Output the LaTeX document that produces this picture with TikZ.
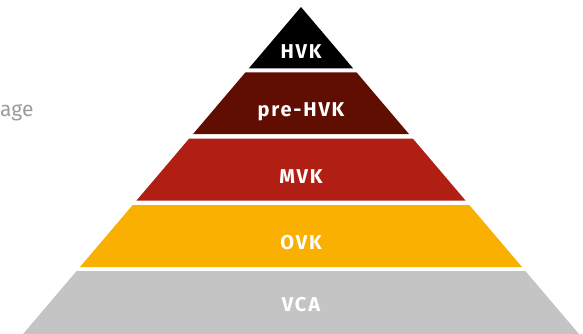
\documentclass[tikz,border=0pt]{standalone}
\usepackage{fontspec}
\setsansfont{Fira Sans}[LetterSpace=9]
\newfontfamily\plainsans{Fira Sans}
\usepackage{tikz}

\definecolor{hvkcol}{HTML}{000000}
\definecolor{prehvkcol}{HTML}{600D02}
\definecolor{mvkcol}{HTML}{B01E14}
\definecolor{ovkcol}{HTML}{F9B000}
\definecolor{vcacol}{HTML}{C4C4C4}
\definecolor{captioncol}{HTML}{9B9B9B}

\begin{document}
\begin{tikzpicture}[
  x=1pt,y=-1pt,
  level/.style={font=\sffamily\bfseries\fontsize{20}{20}\selectfont,text=white,anchor=base,inner sep=0pt},
  caption/.style={font=\plainsans\fontsize{21}{21}\selectfont,text=captioncol,anchor=base west,inner sep=0pt}]
  \useasboundingbox (0,0) rectangle (583,334);
% Layers of the pyramid, apex at (301,7), slope .85
  \foreach \tp/\bt/\col in {7/68.5/hvkcol, 72.5/134/prehvkcol, 138.5/200.5/mvkcol,
                            205/267/ovkcol, 271/334/vcacol}
    \fill[\col] ({301-(\tp-7)*0.85},\tp) -- ({301+(\tp-7)*0.85},\tp)
                -- ({301+(\bt-7)*0.85},\bt) -- ({301-(\bt-7)*0.85},\bt) -- cycle;

% Labels of the layers
  \node[level] (hvk)    at (301,59)  {HVK};
  \node[level] (prehvk) at (301,117) {pre-HVK};
  \node[level] (mvk)    at (301,183) {MVK};
  \node[level] (ovk)    at (301,249) {OVK};
  \node[level] (vca)    at (301,311) {VCA};

% Cut off text on the left
  \node[caption] (cut) at (0,117) {age};
\end{tikzpicture}
\end{document}
